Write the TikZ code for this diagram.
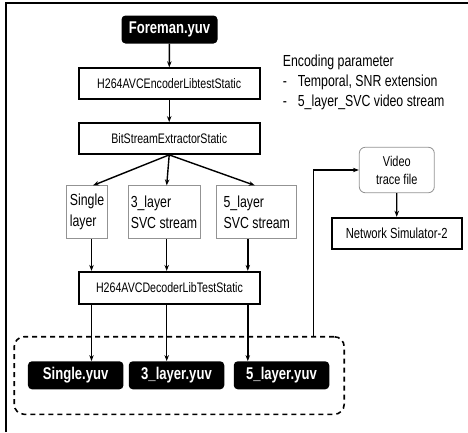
\documentclass[tikz,border=0pt]{standalone}
\usepackage{fontspec}
\setmainfont{Liberation Sans}[FakeStretch=0.77]
\usetikzlibrary{arrows.meta}
\begin{document}
\begin{tikzpicture}[x=1pt,y=-1pt,line join=miter]
    \tikzset{box/.style={draw=black,line width=1.8pt,fill=white,inner sep=0pt,minimum width=181pt,font=\fontsize{13.8}{16}\selectfont},
             file/.style={fill=black,text=white,rounded corners=4pt,inner sep=0pt,minimum height=28pt,font=\bfseries\fontsize{17}{18}\selectfont},
             layer/.style={draw=gray!85,line width=0.8pt,fill=white,inner sep=0pt,minimum height=53pt,align=left,font=\fontsize{16}{21}\selectfont},
             arr/.style={-{Stealth[length=6pt,width=4.5pt]},line width=1.4pt},
             param/.style={anchor=base west,inner sep=0pt,font=\fontsize{16}{18}\selectfont}};
    \useasboundingbox (0,0) rectangle (468,432);
    % frame
    \draw[line width=1.4pt] (6,432) -- (6,3) -- (468,3);

    \node[file,minimum width=96pt] (src) at (169.5,29.5) {Foreman.yuv};
    \node[box,minimum height=31pt] (enc) at (169.2,83.7) {H264AVCEncoderLibtestStatic};
    \node[box,minimum height=31pt] (ext) at (169.2,138.5) {BitStreamExtractorStatic};

    \node[layer,minimum width=41pt] (l1) at (87,212.3) {Single\\layer};
    \node[layer,minimum width=72pt] (l3) at (164,212.3) {3\_layer\\SVC stream};
    \node[layer,minimum width=80pt] (l5) at (256.8,212.3) {5\_layer\\SVC stream};

    \node[box,minimum height=32pt] (dec) at (169.5,287.8) {H264AVCDecoderLibTestStatic};

    \node[draw,dashed,dash pattern=on 5pt off 4pt,line width=1.6pt,rounded corners=10pt,
          minimum width=330pt,minimum height=77.6pt] (grp) at (179.2,375.5) {};
    \node[file,minimum width=95.5pt] (o1) at (75.7,375.3) {Single.yuv};
    \node[file,minimum width=95.5pt] (o3) at (176.5,375.3) {3\_layer.yuv};
    \node[file,minimum width=95.5pt] (o5) at (281.5,375.3) {5\_layer.yuv};

    \node[draw=gray!85,line width=0.8pt,rounded corners=6pt,inner sep=0pt,minimum width=75pt,minimum height=45.5pt,
          align=center,font=\fontsize{14.2}{18}\selectfont] (trace) at (396.8,170) {Video\\trace file};
    \node[box,minimum width=130pt,minimum height=31.6pt,font=\fontsize{14.6}{16}\selectfont] (ns) at (396.7,233.5) {Network Simulator-2};

    \node[param] (p0) at (282.7,66.7) {Encoding parameter};
    \node[param] (p1) at (282.7,86.7) {\makebox[15pt][l]{-}Temporal, SNR extension};
    \node[param] (p2) at (282.7,106.7) {\makebox[15pt][l]{-}5\_layer\_SVC video stream};

    \draw[arr] (src) -- (enc);
    \draw[arr] (enc) -- (ext);
    \draw[arr] (ext.south) -- ([xshift=6pt]l1.north);
    \draw[arr] (ext.south) -- ([xshift=2.7pt]l3.north);
    \draw[arr] (ext.south) -- ([xshift=-2pt]l5.north);

    \foreach \a/\b/\s in {l1/o1/4.5pt, l3/o3/2.7pt, l5/o5/-9pt} {
        \draw[arr] ([xshift=\s]\a.south) -- ([xshift=\s]\a.south |- dec.north);
        \draw[arr] ([xshift=\s]\a.south |- dec.south) -- ([xshift=\s]\a.south |- \b.north);
    }

    \coordinate (up) at (313.3,336.7);
    \draw[arr] (up) |- (trace.west);
    \draw[arr] (trace) -- (ns);
\end{tikzpicture}
\end{document}
